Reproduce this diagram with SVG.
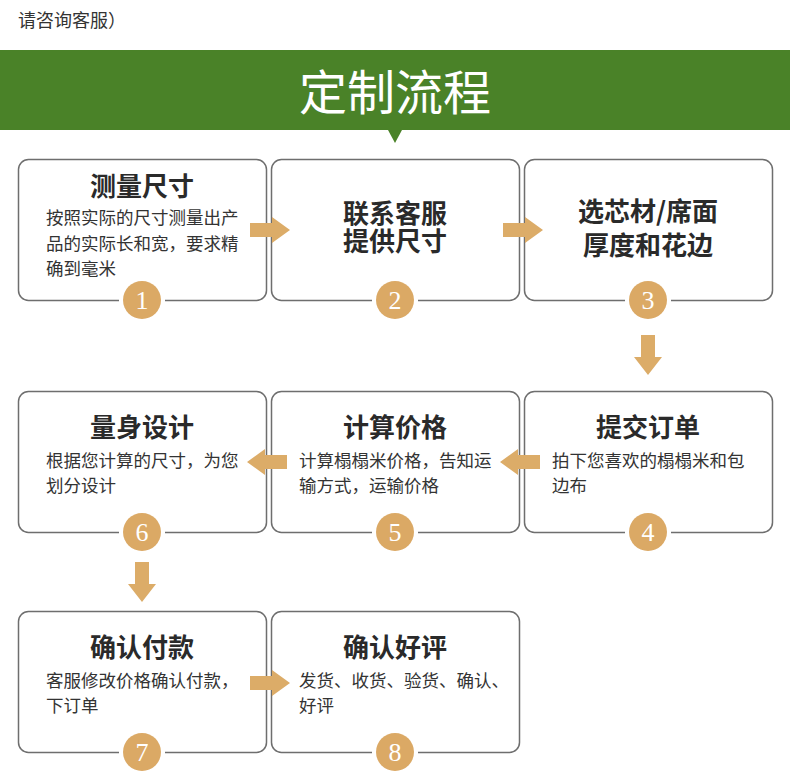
<svg xmlns="http://www.w3.org/2000/svg" width="790" height="776" viewBox="0 0 790 776">
<defs>
<style>
.box{fill:#fff;stroke:#6e6e6e;stroke-width:1.5}
.gap{fill:#fff}
.badge{fill:#dba965}
.num{font-family:"Liberation Serif",serif;font-size:26px;fill:#fff;text-anchor:middle}
.title{font-family:"Noto Sans CJK SC",sans-serif;font-weight:700;font-size:26px;fill:#2a2a2a;text-anchor:middle}
.body{font-family:"Noto Sans CJK SC",sans-serif;font-size:17.5px;fill:#333}
.arr{fill:#dcac68}
</style>
<g id="a-r"><path class="arr" d="M0,-7 H22 V-13 L40,0 L22,13 V7 H0 Z"/></g>
<g id="a-d"><path class="arr" d="M-7,0 H7 V22 H14 L0,40 L-14,22 H-7 Z"/></g>
</defs>
<rect width="790" height="776" fill="#fff"/>
<text x="18" y="27" font-family="Noto Sans CJK SC,sans-serif" font-size="18" fill="#333">请咨询客服）</text>
<g id="banner">
<rect x="0" y="50" width="790" height="80" fill="#4a8228"/>
<path d="M388,130 L402,130 L395,143 Z" fill="#4a8228"/>
<text x="395" y="110" font-family="Noto Sans CJK SC,sans-serif" font-size="48" fill="#fff" text-anchor="middle">定制流程</text>
</g>
<g id="n1">
<rect class="box" x="18.5" y="159.5" width="248" height="141" rx="10"/>
<rect class="gap" x="119" y="298" width="46" height="6"/>
<circle class="badge" cx="142" cy="300" r="19"/>
<text class="num" x="142" y="309">1</text>
<text class="title" x="142" y="196">测量尺寸</text>
<text class="body" x="46" y="224">按照实际的尺寸测量出产</text>
<text class="body" x="46" y="250">品的实际长和宽，要求精</text>
<text class="body" x="46" y="275">确到毫米</text>
</g>
<g id="n2">
<rect class="box" x="271.5" y="159.5" width="248" height="141" rx="10"/>
<rect class="gap" x="372" y="298" width="46" height="6"/>
<circle class="badge" cx="395" cy="300" r="19"/>
<text class="num" x="395" y="309">2</text>
<text class="title" x="395" y="223">联系客服</text>
<text class="title" x="395" y="251">提供尺寸</text>
</g>
<g id="n3">
<rect class="box" x="524.5" y="159.5" width="248" height="141" rx="10"/>
<rect class="gap" x="625" y="298" width="46" height="6"/>
<circle class="badge" cx="648" cy="300" r="19"/>
<text class="num" x="648" y="309">3</text>
<text class="title" x="648" y="221">选芯材/席面</text>
<text class="title" x="648" y="255">厚度和花边</text>
</g>
<g id="n4">
<rect class="box" x="524.5" y="391.5" width="248" height="141" rx="10"/>
<rect class="gap" x="625" y="530" width="46" height="6"/>
<circle class="badge" cx="648" cy="532" r="19"/>
<text class="num" x="648" y="541">4</text>
<text class="title" x="648" y="437">提交订单</text>
<text class="body" x="552" y="467">拍下您喜欢的榻榻米和包</text>
<text class="body" x="552" y="492">边布</text>
</g>
<g id="n5">
<rect class="box" x="271.5" y="391.5" width="248" height="141" rx="10"/>
<rect class="gap" x="372" y="530" width="46" height="6"/>
<circle class="badge" cx="395" cy="532" r="19"/>
<text class="num" x="395" y="541">5</text>
<text class="title" x="395" y="437">计算价格</text>
<text class="body" x="299" y="467">计算榻榻米价格，告知运</text>
<text class="body" x="299" y="492">输方式，运输价格</text>
</g>
<g id="n6">
<rect class="box" x="18.5" y="391.5" width="248" height="141" rx="10"/>
<rect class="gap" x="119" y="530" width="46" height="6"/>
<circle class="badge" cx="142" cy="532" r="19"/>
<text class="num" x="142" y="541">6</text>
<text class="title" x="142" y="437">量身设计</text>
<text class="body" x="46" y="467">根据您计算的尺寸，为您</text>
<text class="body" x="46" y="492">划分设计</text>
</g>
<g id="n7">
<rect class="box" x="18.5" y="611.5" width="248" height="141" rx="10"/>
<rect class="gap" x="119" y="750" width="46" height="6"/>
<circle class="badge" cx="142" cy="752" r="19"/>
<text class="num" x="142" y="761">7</text>
<text class="title" x="142" y="657">确认付款</text>
<text class="body" x="46" y="687">客服修改价格确认付款，</text>
<text class="body" x="46" y="712">下订单</text>
</g>
<g id="n8">
<rect class="box" x="271.5" y="611.5" width="248" height="141" rx="10"/>
<rect class="gap" x="372" y="750" width="46" height="6"/>
<circle class="badge" cx="395" cy="752" r="19"/>
<text class="num" x="395" y="761">8</text>
<text class="title" x="395" y="657">确认好评</text>
<text class="body" x="299" y="687">发货、收货、验货、确认、</text>
<text class="body" x="299" y="712">好评</text>
</g>
<g id="connectors">
<use href="#a-r" x="250" y="230"/>
<use href="#a-r" x="503" y="230"/>
<use href="#a-d" x="648" y="335"/>
<use href="#a-r" transform="translate(540,462) scale(-1,1)"/>
<use href="#a-r" transform="translate(287,462) scale(-1,1)"/>
<use href="#a-d" x="142" y="562"/>
<use href="#a-r" x="250" y="683"/>
</g>
</svg>
